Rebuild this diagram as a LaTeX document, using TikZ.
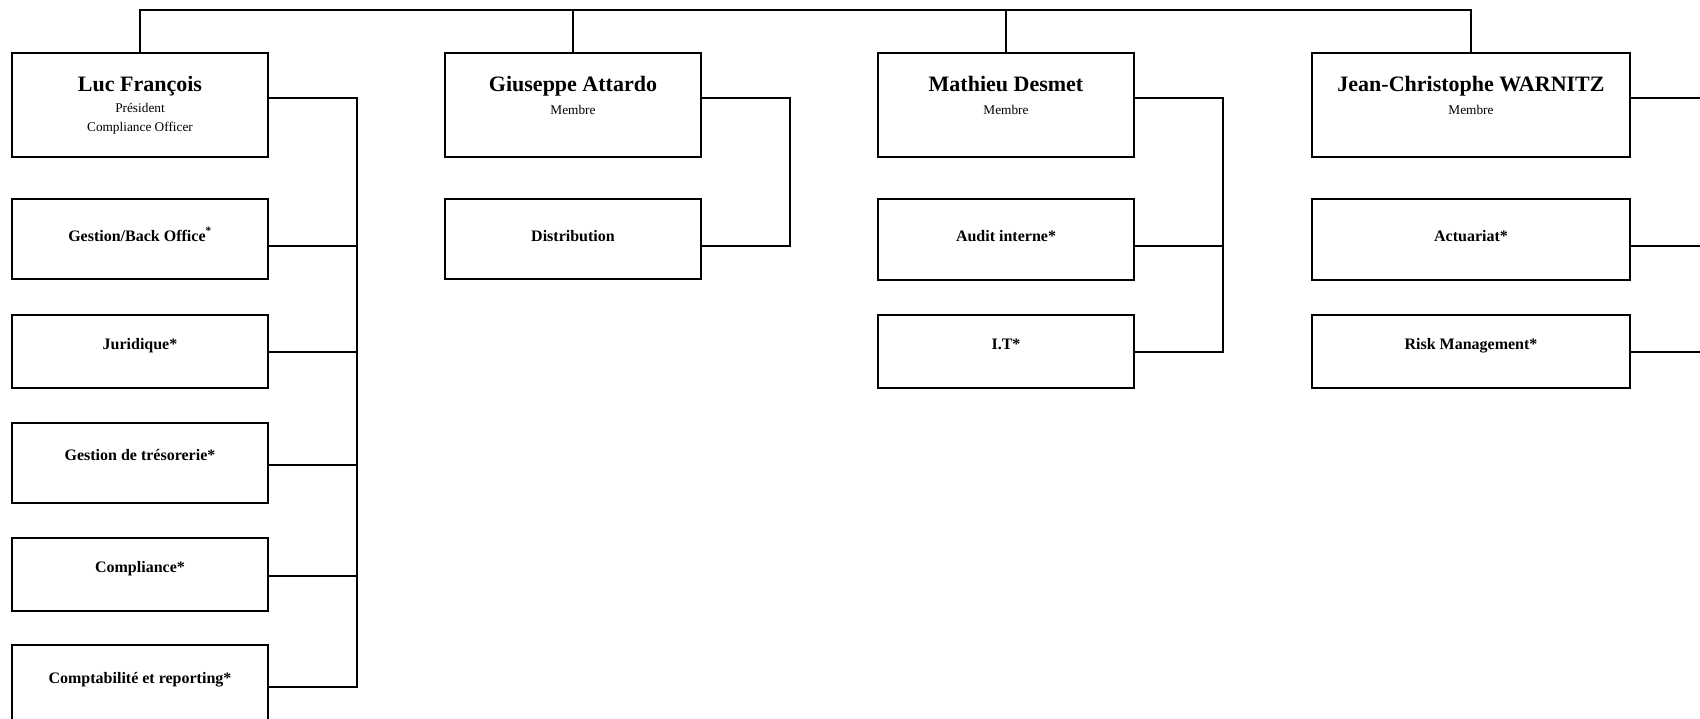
\documentclass[tikz,border=0pt]{standalone}
\usepackage{fontspec}
\setmainfont{Liberation Serif}
\begin{document}
\begin{tikzpicture}[x=1pt,y=-1pt,
  box/.style={draw, line width=2pt, inner sep=0pt, outer sep=0pt, anchor=north west, minimum width=#1},
  box/.default=256pt,
  nm/.style={font=\fontsize{22}{26}\selectfont\bfseries, anchor=base, inner sep=0pt},
  sub/.style={font=\fontsize{13.3}{16}\selectfont, anchor=base, inner sep=0pt},
  lbl/.style={font=\fontsize{16}{19}\selectfont\bfseries, anchor=base, inner sep=0pt},
  link/.style={draw, line width=2pt}]
\clip (0,0) rectangle (1700,718);
% person boxes
\node[box, minimum height=104pt] (luc) at (12,53) {};
\node[box, minimum height=104pt] (gi) at (445,53) {};
\node[box, minimum height=104pt] (ma) at (878,53) {};
\node[box=318pt, minimum height=104pt] (jc) at (1312,53) {};
\node[nm] (luct) at ([yshift=-38pt]luc.north) {Luc François};
\node[sub] (lucs1) at ([yshift=-59pt]luc.north) {Président};
\node[sub] (lucs2) at ([yshift=-78.5pt]luc.north) {Compliance Officer};
\node[nm] (git) at ([yshift=-38.5pt]gi.north) {Giuseppe Attardo};
\node[sub] (gis) at ([yshift=-61pt]gi.north) {Membre};
\node[nm] (mat) at ([yshift=-38.5pt]ma.north) {Mathieu Desmet};
\node[sub] (mas) at ([yshift=-61pt]ma.north) {Membre};
\node[nm] (jct) at ([yshift=-38.5pt]jc.north) {Jean-Christophe WARNITZ};
\node[sub] (jcs) at ([yshift=-61pt]jc.north) {Membre};
% Luc column
\node[box, minimum height=80pt] (gb) at (12,199) {};
\node[lbl] at ([yshift=-42pt]gb.north) {Gestion/Back Office\textsuperscript{*}};
\node[box, minimum height=73pt] (ju) at (12,315) {};
\node[lbl] at ([yshift=-34.5pt]ju.north) {Juridique*};
\node[box, minimum height=80pt] (tr) at (12,423) {};
\node[lbl] at ([yshift=-37.5pt]tr.north) {Gestion de trésorerie*};
\node[box, minimum height=73pt] (co) at (12,538) {};
\node[lbl] at ([yshift=-34.5pt]co.north) {Compliance*};
\node[box, minimum height=82pt] (cr) at (12,645) {};
\node[lbl] at ([yshift=-38.5pt]cr.north) {Comptabilité et reporting*};
% Giuseppe column
\node[box, minimum height=80pt] (di) at (445,199) {};
\node[lbl] at ([yshift=-42pt]di.north) {Distribution};
% Mathieu column
\node[box, minimum height=81pt] (au) at (878,199) {};
\node[lbl] at ([yshift=-42.5pt]au.north) {Audit interne*};
\node[box, minimum height=73pt] (it) at (878,315) {};
\node[lbl] at ([yshift=-34.5pt]it.north) {I.T*};
% JC column
\node[box=318pt, minimum height=81pt] (ac) at (1312,199) {};
\node[lbl] at ([yshift=-42.5pt]ac.north) {Actuariat*};
\node[box=318pt, minimum height=73pt] (rm) at (1312,315) {};
\node[lbl] at ([yshift=-34.5pt]rm.north) {Risk Management*};
% buses
\coordinate (lb1) at (357,98); \coordinate (lb2) at (357,687);
\coordinate (gb1) at (790,98); \coordinate (gb2) at (790,246);
\coordinate (mb1) at (1223,98); \coordinate (mb2) at (1223,352);
\coordinate (jb1) at (1719,98); \coordinate (jb2) at (1719,352);
% top connector
\draw[link] (luc.north) -- ++(0,-43) -| (jc.north);
\draw[link] (gi.north) -- ++(0,-43);
\draw[link] (ma.north) -- ++(0,-43);
% Luc connectors
\draw[link] ([yshift=-45pt]luc.north east) -- (lb1) -- (lb2) -- ([yshift=-42pt]cr.north east);
\draw[link] ([yshift=-47pt]gb.north east) -- ++(89,0);
\draw[link] ([yshift=-37pt]ju.north east) -- ++(89,0);
\draw[link] ([yshift=-42pt]tr.north east) -- ++(89,0);
\draw[link] ([yshift=-38pt]co.north east) -- ++(89,0);
% Giuseppe
\draw[link] ([yshift=-45pt]gi.north east) -- (gb1) -- (gb2) -- ([yshift=-47pt]di.north east);
% Mathieu
\draw[link] ([yshift=-45pt]ma.north east) -- (mb1) -- (mb2) -- ([yshift=-37pt]it.north east);
\draw[link] ([yshift=-47pt]au.north east) -- ++(88,0);
% JC
\draw[link] ([yshift=-45pt]jc.north east) -- (jb1) -- (jb2) -- ([yshift=-37pt]rm.north east);
\draw[link] ([yshift=-47pt]ac.north east) -- ++(89,0);
\end{tikzpicture}
\end{document}
